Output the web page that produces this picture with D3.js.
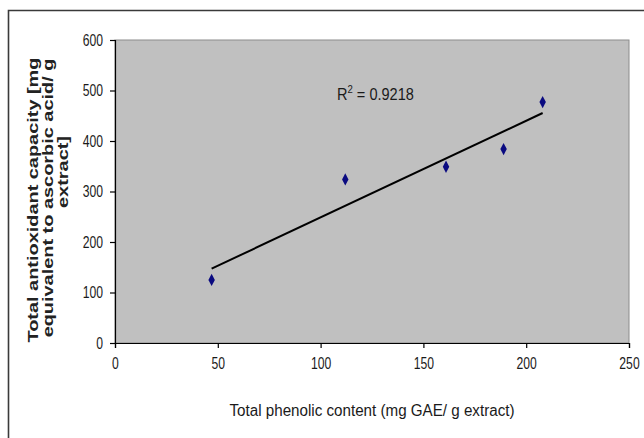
<!DOCTYPE html>
<html>
<head>
<meta charset="utf-8">
<script src="https://cdn.jsdelivr.net/npm/d3@7"></script>
<style>
  html, body { margin: 0; padding: 0; background: #fff; }
  svg { display: block; }
  .narrow { font-family: "Liberation Sans", Arial, sans-serif; }
</style>
</head>
<body>
<script>
// Data
const phenolic = [47, 112, 161, 189, 208];      // x: Total phenolic content (mg GAE/ g extract)
const antioxidant = [125, 324, 349, 384, 477];  // y: Total antioxidant capacity
const xTicks = [0, 50, 100, 150, 200, 250];
const yTicks = [0, 100, 200, 300, 400, 500, 600];
const xTitle = "Total phenolic content (mg GAE/ g extract)";
const yTitleLines = ["Total antioxidant capacity [mg", "equivalent to ascorbic acid/ g", "extract]"];
const r2Label = "0.9218";

const W = 644, H = 438;
const plot = { left: 115, right: 629, top: 40, bottom: 343 };

const svg = d3.select("body").append("svg").attr("width", W).attr("height", H);

// narrow-font emulation: compress glyphs horizontally
function narrow(sel, f) {
  sel.each(function () {
    const L = this.getComputedTextLength();
    d3.select(this).attr("textLength", L * f).attr("lengthAdjust", "spacingAndGlyphs");
  });
}

// Outer chart frame (only top and left edges visible)
svg.append("path")
  .attr("d", `M8.5,${H} L8.5,10.5 L${W},10.5`)
  .attr("fill", "none").attr("stroke", "#3a3a3a").attr("stroke-width", 1.6);

const x = d3.scaleLinear().domain([0, 250]).range([plot.left, plot.right]);
const y = d3.scaleLinear().domain([0, 600]).range([plot.bottom, plot.top]);

// plot area
svg.append("rect")
  .attr("x", plot.left).attr("y", plot.top)
  .attr("width", plot.right - plot.left).attr("height", plot.bottom - plot.top)
  .attr("fill", "#c0c0c0").attr("stroke", "#8c8c8c").attr("stroke-width", 1);

// axes
const xAxis = svg.append("g").attr("transform", `translate(0,${plot.bottom})`)
  .call(d3.axisBottom(x).tickValues(xTicks).tickSize(5).tickPadding(10));
const yAxis = svg.append("g").attr("transform", `translate(${plot.left},0)`)
  .call(d3.axisLeft(y).tickValues(yTicks).tickSize(5).tickPadding(7));
[xAxis, yAxis].forEach(g => {
  g.select(".domain").attr("stroke", "#000").attr("stroke-width", 1.2);
  g.selectAll(".tick line").attr("stroke", "#000").attr("stroke-width", 1.2);
  g.selectAll(".tick text").attr("class", "narrow").attr("font-size", 16).attr("fill", "#1a1a1a")
    .call(narrow, 0.76);
});

// trendline from least squares fit
const mx = d3.mean(phenolic), my = d3.mean(antioxidant);
const slope = d3.sum(phenolic.map((v, i) => (v - mx) * (antioxidant[i] - my))) /
              d3.sum(phenolic.map(v => (v - mx) ** 2));
const intercept = my - slope * mx;
const x0 = d3.min(phenolic), x1 = d3.max(phenolic);
svg.append("line")
  .attr("x1", x(x0)).attr("y1", y(intercept + slope * x0))
  .attr("x2", x(x1)).attr("y2", y(intercept + slope * x1))
  .attr("stroke", "#000").attr("stroke-width", 2);

// markers
svg.append("g").selectAll("path").data(phenolic.map((v, i) => [v, antioxidant[i]]))
  .join("path")
  .attr("transform", d => `translate(${x(d[0])},${y(d[1])}) scale(0.95,1.05)`)
  .attr("d", d3.symbol(d3.symbolDiamond, 40))
  .attr("fill", "#0a0a80");

// R² label
const r2 = svg.append("text").attr("class", "narrow")
  .attr("x", 0).attr("y", 0).attr("font-size", 16).attr("fill", "#1a1a1a");
r2.append("tspan").text("R");
r2.append("tspan").attr("font-size", 10.5).attr("dy", -7).text("2");
r2.append("tspan").attr("dy", 7).text(" = " + r2Label);
const r2w = r2.node().getBBox().width;
r2.attr("transform", `translate(337,100) scale(${77 / r2w},1)`);

// x title
svg.append("text").attr("class", "narrow")
  .attr("x", 372).attr("y", 416).attr("text-anchor", "middle")
  .attr("font-size", 16).attr("fill", "#1a1a1a").text(xTitle)
  .attr("textLength", 285).attr("lengthAdjust", "spacingAndGlyphs");

// y title (three rotated lines)
const yt = svg.append("text")
  .attr("transform", "rotate(-90)")
  .attr("font-family", "'Liberation Sans', Arial, sans-serif")
  .attr("font-weight", "bold").attr("font-size", 14.5).attr("fill", "#222")
  .attr("text-anchor", "middle");
const lineX = [37.5, 52.5, 67.5];
const lineCenter = [200, 198, 172];
const spans = yTitleLines.map((t, i) =>
  yt.append("tspan").attr("x", -lineCenter[i]).attr("y", lineX[i]).text(t));
const k = 285 / spans[0].node().getComputedTextLength();
spans.forEach(s => {
  s.attr("textLength", s.node().getComputedTextLength() * k).attr("lengthAdjust", "spacingAndGlyphs");
});
</script>
</body>
</html>
